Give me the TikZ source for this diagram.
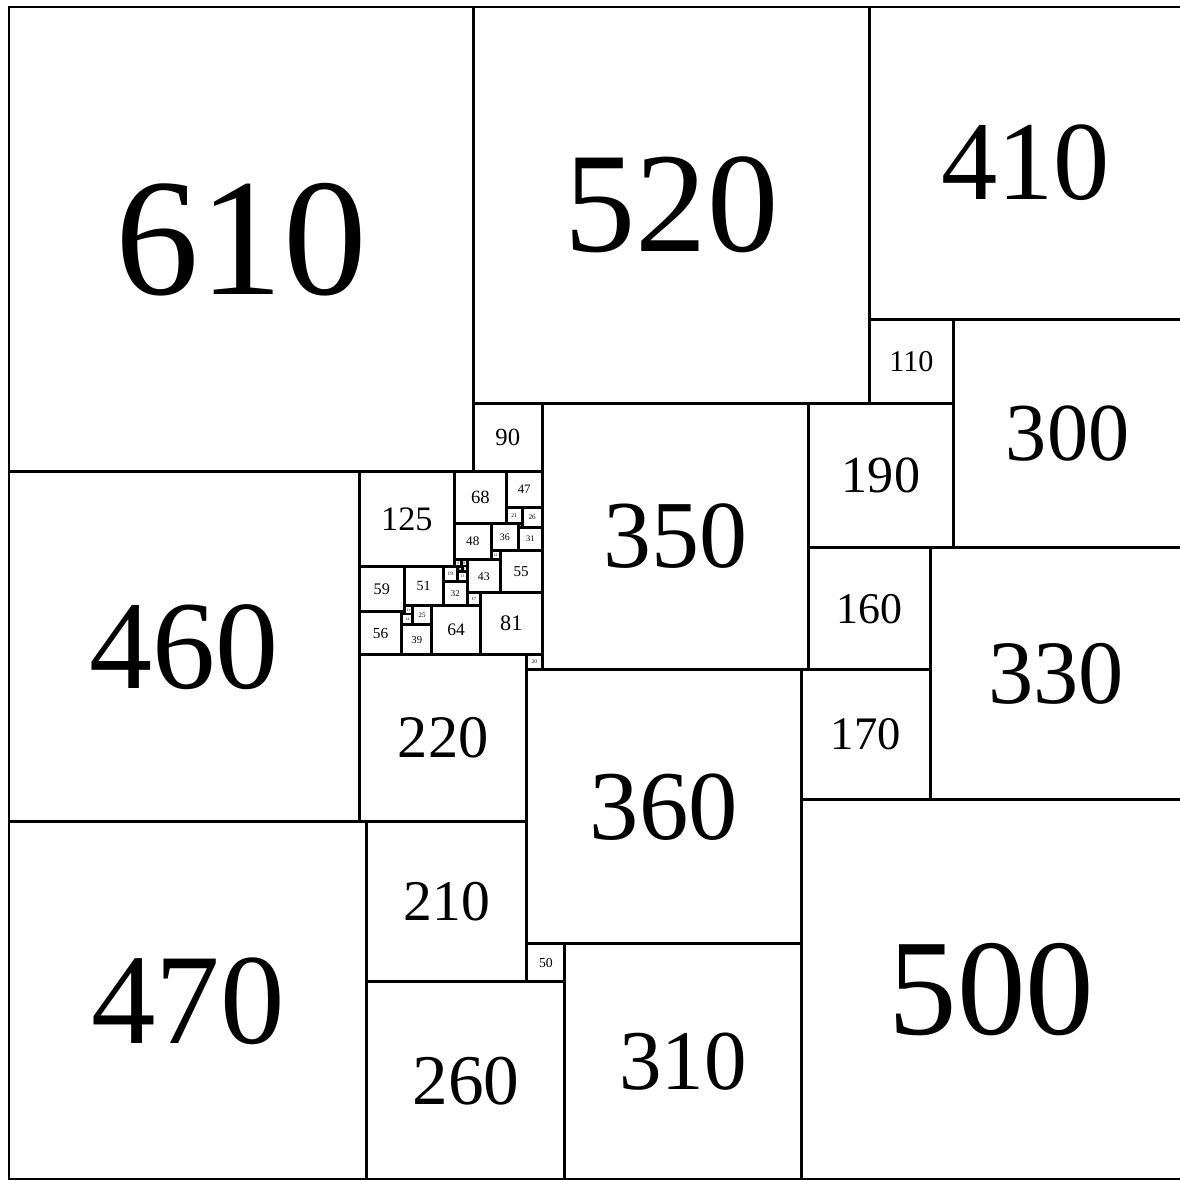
\documentclass[tikz,border=0pt]{standalone}
\usepackage{fontspec}
\setmainfont{Liberation Serif}
\tikzset{
  every picture/.style={line width=1.1pt},
  tile/.style={draw=black},
  tag/.style={inner sep=0pt, anchor=center},
}
\begin{document}
\begin{tikzpicture}[x=0.01cm, y=-0.01cm]
  \useasboundingbox (-11.8,-9.2) rectangle (1537.6,1540.2);
  % squares as left/top/side, y counted downwards
  \foreach \x/\y/\s in {0/0/610, 610/0/520, 1130/0/410, 1130/410/110, 1240/410/300,
      610/520/90, 700/520/350, 1050/520/190, 0/610/460, 460/610/125, 585/610/68,
      653/610/47, 653/657/21, 674/657/26, 585/678/48, 633/678/36, 669/678/5,
      669/683/31, 1050/710/160, 1210/710/330, 633/714/12, 645/714/55, 585/726/9,
      594/726/8, 602/726/43, 594/734/1, 595/734/7, 460/735/59, 519/735/51,
      570/735/19, 589/735/6, 589/741/13, 570/754/32, 602/769/17, 619/769/81,
      519/786/11, 530/786/25, 555/786/64, 516/794/3, 460/794/56, 516/797/14,
      516/811/39, 680/850/20, 460/850/220, 1040/870/170, 680/870/360,
      1040/1040/500, 0/1070/470, 470/1070/210, 680/1230/50, 730/1230/310,
      470/1280/260} {
    \pgfmathsetmacro{\fs}{max(0.1024*\s,1.4)}
    \draw[tile] (\x,\y) rectangle ++(\s,\s);
    \node[tag, font=\fontsize{\fs pt}{\fs pt}\selectfont] (q\s) at (\x+\s/2,\y+\s/2) {\s};
  }
\end{tikzpicture}
\end{document}
